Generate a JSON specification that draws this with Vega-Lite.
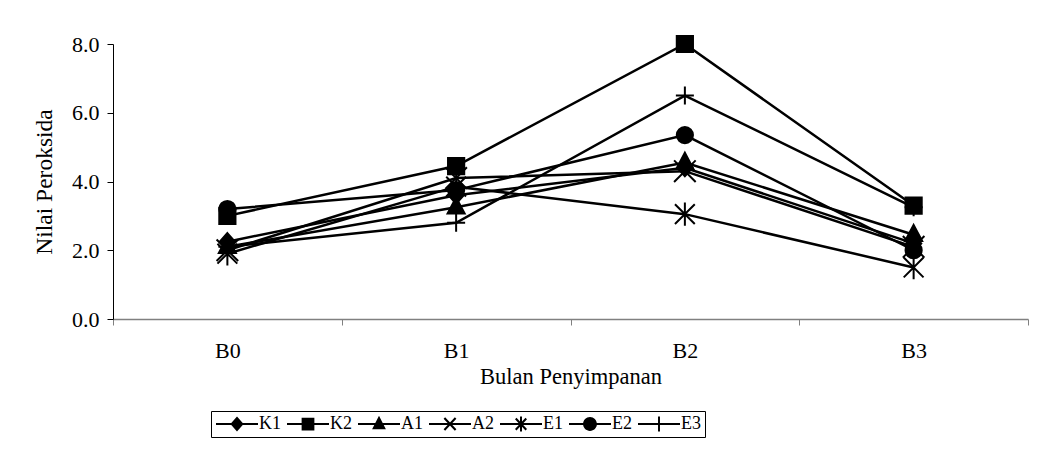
{
  "$schema": "https://vega.github.io/schema/vega-lite/v6.json",
  "width": 915,
  "height": 275,
  "autosize": {"type": "none"},
  "padding": {"left": 113, "top": 44, "right": 24, "bottom": 133},
  "background": "white",
  "config": {
    "view": {"stroke": null},
    "font": "Liberation Serif",
    "axis": {"grid": false, "labelFont": "Liberation Serif", "titleFont": "Liberation Serif", "labelColor": "black", "titleColor": "black", "titleFontWeight": "normal"}
  },
  "data": {
    "values": [
      {"seri": "K1", "bulan": "B0", "nilai": 2.25},
      {"seri": "K1", "bulan": "B1", "nilai": 3.6},
      {"seri": "K1", "bulan": "B2", "nilai": 4.4},
      {"seri": "K1", "bulan": "B3", "nilai": 2.2},
      {"seri": "K2", "bulan": "B0", "nilai": 3.0},
      {"seri": "K2", "bulan": "B1", "nilai": 4.45},
      {"seri": "K2", "bulan": "B2", "nilai": 8.0},
      {"seri": "K2", "bulan": "B3", "nilai": 3.3},
      {"seri": "A1", "bulan": "B0", "nilai": 2.1},
      {"seri": "A1", "bulan": "B1", "nilai": 3.25},
      {"seri": "A1", "bulan": "B2", "nilai": 4.55},
      {"seri": "A1", "bulan": "B3", "nilai": 2.45},
      {"seri": "A2", "bulan": "B0", "nilai": 2.0},
      {"seri": "A2", "bulan": "B1", "nilai": 4.1},
      {"seri": "A2", "bulan": "B2", "nilai": 4.3},
      {"seri": "A2", "bulan": "B3", "nilai": 2.1},
      {"seri": "E1", "bulan": "B0", "nilai": 1.9},
      {"seri": "E1", "bulan": "B1", "nilai": 3.85},
      {"seri": "E1", "bulan": "B2", "nilai": 3.05},
      {"seri": "E1", "bulan": "B3", "nilai": 1.5},
      {"seri": "E2", "bulan": "B0", "nilai": 3.2},
      {"seri": "E2", "bulan": "B1", "nilai": 3.75},
      {"seri": "E2", "bulan": "B2", "nilai": 5.35},
      {"seri": "E2", "bulan": "B3", "nilai": 2.0},
      {"seri": "E3", "bulan": "B0", "nilai": 2.1},
      {"seri": "E3", "bulan": "B1", "nilai": 2.8},
      {"seri": "E3", "bulan": "B2", "nilai": 6.5},
      {"seri": "E3", "bulan": "B3", "nilai": 3.25}
    ]
  },
  "encoding": {
    "x": {
      "field": "bulan",
      "type": "nominal",
      "bandPosition": 0.5,
      "sort": ["B0", "B1", "B2", "B3"],
      "scale": {"type": "band", "paddingInner": 0, "paddingOuter": 0},
      "title": "Bulan Penyimpanan",
      "axis": {
        "labelAngle": 0,
        "tickBand": "extent",
        "tickSize": 6,
        "tickColor": "#808080",
        "domainColor": "#808080",
        "domainWidth": 1.5,
        "labelFontSize": 22,
        "labelPadding": 15,
        "titleFontSize": 22.5,
        "titlePadding": 4
      }
    },
    "y": {
      "field": "nilai",
      "type": "quantitative",
      "scale": {"domain": [0, 8], "nice": false},
      "title": "Nilai Peroksida",
      "axis": {
        "values": [0, 2, 4, 6, 8],
        "format": ".1f",
        "tickSize": 6,
        "tickColor": "black",
        "domainColor": "black",
        "labelFontSize": 22,
        "labelPadding": 8,
        "titleFontSize": 23.5,
        "titlePadding": 15
      }
    }
  },
  "layer": [
    {
      "mark": {"type": "line", "color": "black", "strokeWidth": 2.5},
      "encoding": {"detail": {"field": "seri"}}
    },
    {
      "mark": {"type": "point", "filled": true, "color": "black", "stroke": "black", "strokeWidth": 2, "opacity": 1, "size": 324},
      "encoding": {
        "shape": {
          "field": "seri",
          "type": "nominal",
          "legend": null,
          "scale": {
            "domain": ["K1", "K2", "A1", "A2", "E1", "E2", "E3"],
            "range": [
              "M0,-0.95L0.85,0L0,0.95L-0.85,0Z",
              "M-0.9,-0.9H0.9V0.9H-0.9Z",
              "M0,-1.1L0.95,0.7H-0.95Z",
              "M-1.2,-1.2L1.2,1.2M-1.2,1.2L1.2,-1.2",
              "M-1.1,-1.1L1.1,1.1M-1.1,1.1L1.1,-1.1M0,-1.3V1.3",
              "M-0.9,0A0.9,0.9,0,1,1,0.9,0A0.9,0.9,0,1,1,-0.9,0Z",
              "M-1,0H1M0,-1V1"
            ]
          }
        }
      }
    },
    {
      "transform": [{"filter": "false"}],
      "mark": {"type": "point", "filled": true, "color": "black", "opacity": 1},
      "encoding": {
        "shape": {
          "field": "seri",
          "type": "nominal",
          "scale": {
            "domain": ["K1", "K2", "A1", "A2", "E1", "E2", "E3"],
            "range": [
              "M-2.8,-0.13H2.8V0.13H-2.8ZM0,-1L0.88,0L0,1L-0.88,0Z",
              "M-2.8,-0.13H2.8V0.13H-2.8ZM-0.85,-0.85H0.85V0.85H-0.85Z",
              "M-2.8,-0.13H2.8V0.13H-2.8ZM0,-1.1L0.92,0.7H-0.92Z",
              "M-2.8,-0.13H2.8V0.13H-2.8ZM-0.648,-0.896L0.852,0.704L0.648,0.896L-0.852,-0.704ZM-0.852,0.704L0.648,-0.896L0.852,-0.704L-0.648,0.896Z",
              "M-2.8,-0.13H2.8V0.13H-2.8ZM-0.6,-0.85L0.8,0.65L0.6,0.85L-0.8,-0.65ZM-0.8,0.65L0.6,-0.85L0.8,-0.65L-0.6,0.85ZM-0.13,-1H0.13V1H-0.13Z",
              "M-2.8,-0.13H2.8V0.13H-2.8ZM-0.92,0A0.92,0.92,0,1,1,0.92,0A0.92,0.92,0,1,1,-0.92,0Z",
              "M-2.8,-0.13H2.8V0.13H-2.8ZM-0.13,-1H0.13V1H-0.13Z"
            ]
          },
          "legend": {
            "title": null,
            "orient": "none",
            "legendX": 98,
            "legendY": 367,
            "direction": "horizontal",
            "columns": 7,
            "symbolSize": 225,
            "symbolOffset": 13,
            "symbolStrokeWidth": 0,
            "symbolFillColor": "black",
            "labelFont": "Liberation Serif",
            "labelFontSize": 18,
            "labelColor": "black",
            "labelOffset": 13,
            "columnPadding": 5,
            "padding": 4,
            "strokeColor": "black"
          }
        }
      }
    }
  ],
  "resolve": {"scale": {"shape": "independent"}}
}
